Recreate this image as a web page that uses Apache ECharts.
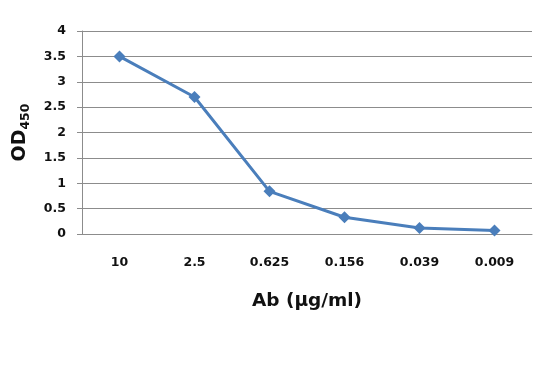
<!DOCTYPE html>
<html>
<head>
<meta charset="utf-8">
<script src="https://cdn.jsdelivr.net/npm/echarts@6/dist/echarts.min.js"></script>
<style>
    html, body { margin: 0; padding: 0; background: #fff; }
    #chart { width: 539px; height: 365px; }
</style>
</head>
<body>
<div id="chart"></div>
<script>
// 数据
const concentrations = ["10", "2.5", "0.625", "0.156", "0.039", "0.009"]
const odValues = [3.5, 2.7, 0.84, 0.33, 0.12, 0.07]
const yTicks = [0, 0.5, 1, 1.5, 2, 2.5, 3, 3.5, 4]

const font = "DejaVu Sans"
const gridColor = "#8c8c8c"

const myChart = echarts.init(document.getElementById("chart"), null, { renderer: "canvas" })
const option = {
    animation: false,
    grid: { left: 82, right: 7, top: 31, bottom: 131 },
    xAxis: {
        type: "category",
        data: concentrations,
        boundaryGap: true,
        axisLine: { lineStyle: { color: gridColor, width: 1 } },
        axisTick: { show: false },
        axisLabel: {
            margin: 22,
            color: "#111",
            fontFamily: font,
            fontWeight: "bold",
            fontSize: 12.5,
        },
        name: "Ab (μg/ml)",
        nameLocation: "middle",
        nameGap: 58,
        nameTextStyle: {
            color: "#111",
            fontFamily: font,
            fontWeight: "bold",
            fontSize: 18.5,
        },
    },
    yAxis: {
        type: "value",
        min: yTicks[0],
        max: yTicks[yTicks.length - 1],
        interval: 0.5,
        axisLine: { show: true, lineStyle: { color: gridColor, width: 1 } },
        axisTick: { show: true, length: 5, lineStyle: { color: gridColor } },
        splitLine: { lineStyle: { color: gridColor, width: 1 } },
        axisLabel: {
            margin: 16,
            color: "#111",
            fontFamily: font,
            fontWeight: "bold",
            fontSize: 12.5,
        },
        name: "{a|OD}{b|450}",
        nameLocation: "middle",
        nameGap: 50,
        nameRotate: 90,
        nameTextStyle: {
            rich: {
                a: { fontFamily: font, fontWeight: "bold", fontSize: 19, color: "#111" },
                b: { fontFamily: font, fontWeight: "bold", fontSize: 12.5, color: "#111", verticalAlign: "bottom", padding: [10, 0, 0, 0] },
            },
        },
    },
    series: [
        {
            type: "line",
            data: odValues,
            symbol: "diamond",
            symbolSize: 12,
            lineStyle: { color: "#4a7ebb", width: 3 },
            itemStyle: { color: "#4a7ebb" },
        },
    ],
}
myChart.setOption(option)
</script>
</body>
</html>
